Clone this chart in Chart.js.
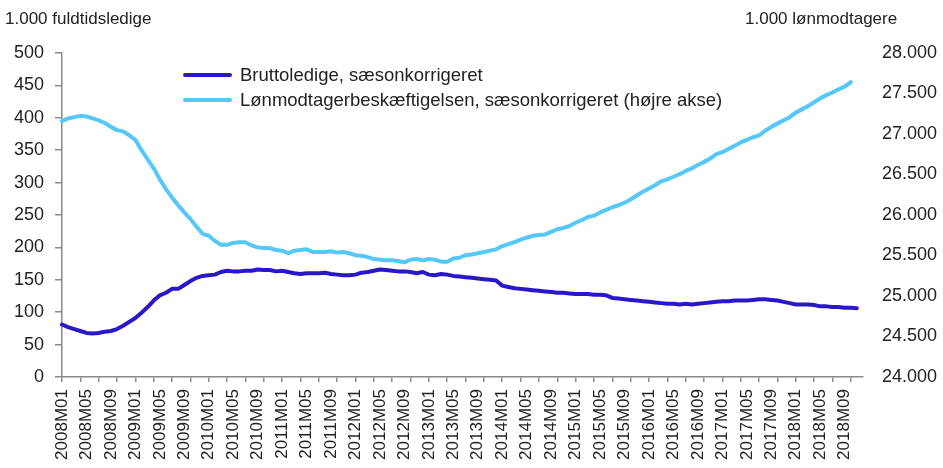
<!DOCTYPE html>
<html>
<head>
<meta charset="utf-8">
<script src="https://cdn.jsdelivr.net/npm/chart.js@4.4.1/dist/chart.umd.min.js"></script>
<style>
  body { margin: 0; background: #fff; }
  #wrap { position: relative; width: 943px; height: 468px; font-family: "Liberation Sans", Arial, sans-serif; color: #222; }
  canvas { position: absolute; left: 0; top: 0; }
  .axis-title { position: absolute; top: 9px; font-size: 17px; white-space: nowrap; }
  .legend { position: absolute; left: 183px; top: 62px; font-size: 18.5px; }
  .legend div { display: flex; align-items: center; height: 25px; white-space: nowrap; }
  .legend i { display: inline-block; width: 49px; height: 4px; border-radius: 2px; margin-right: 8px; }
</style>
</head>
<body>
<div id="wrap">
  <canvas id="chart" width="943" height="468"></canvas>
  <div class="axis-title" style="left:5px;">1.000 fuldtidsledige</div>
  <div class="axis-title" style="left:745px;">1.000 lønmodtagere</div>
  <div class="legend" id="legend"></div>
</div>
<script>
// månedlige kategorier 2008M01 - 2018M12
const years = [2008, 2009, 2010, 2011, 2012, 2013, 2014, 2015, 2016, 2017, 2018];
const months = ["01", "02", "03", "04", "05", "06", "07", "08", "09", "10", "11", "12"];
const labels = [];
years.forEach((y) => months.forEach((m) => labels.push(`${y}M${m}`)));

// bruttoledige, 1.000 fuldtidsledige (venstre akse)
const bruttoledige = [
  81, 77, 74, 71, 68, 67, 68, 70, 71, 74, 79, 85,
  91, 99, 108, 118, 126, 130, 136, 136, 142, 148, 153, 156,
  157, 158, 162, 164, 163, 163, 164, 164, 166, 165, 165, 163,
  164, 162, 160, 159, 160, 160, 160, 161, 159, 158, 157, 157,
  158, 161, 162, 164, 166, 165, 164, 163, 163, 162, 160, 162,
  158, 157, 159, 158, 156, 155, 154, 153, 152, 151, 150, 149,
  141, 139, 137, 136, 135, 134, 133, 132, 131, 130, 130, 129,
  128, 128, 128, 127, 127, 126, 122, 121, 120, 119, 118, 117,
  116, 115, 114, 113, 113, 112, 113, 112, 113, 114, 115, 116,
  117, 117, 118, 118, 118, 119, 120, 120, 119, 118, 116, 114,
  112, 112, 112, 111, 109, 109, 108, 108, 107, 107, 106
];

// lønmodtagerbeskæftigelse, 1.000 lønmodtagere (højre akse)
const loenmodtagere = [
  27160, 27192, 27208, 27224, 27216, 27192, 27168, 27136, 27088, 27048, 27032, 26984,
  26928, 26800, 26688, 26576, 26440, 26320, 26216, 26120, 26032, 25952, 25856, 25768,
  25744, 25680, 25632, 25632, 25656, 25664, 25664, 25624, 25600, 25592, 25592, 25568,
  25560, 25528, 25560, 25568, 25576, 25544, 25544, 25544, 25552, 25536, 25544, 25528,
  25504, 25496, 25480, 25456, 25448, 25440, 25440, 25432, 25416, 25448, 25456, 25440,
  25456, 25448, 25424, 25424, 25464, 25472, 25504, 25512, 25528, 25544, 25560, 25576,
  25616, 25640, 25664, 25696, 25720, 25744, 25752, 25760, 25792, 25824, 25840, 25864,
  25904, 25936, 25976, 25992, 26032, 26064, 26096, 26120, 26152, 26192, 26240, 26288,
  26328, 26368, 26416, 26440, 26472, 26504, 26544, 26576, 26616, 26656, 26696, 26752,
  26776, 26816, 26856, 26896, 26928, 26960, 26984, 27040, 27088, 27128, 27168, 27208,
  27264, 27304, 27344, 27392, 27440, 27480, 27512, 27552, 27584, 27640
];

const seriesNames = [
  "Bruttoledige, sæsonkorrigeret",
  "Lønmodtagerbeskæftigelsen, sæsonkorrigeret (højre akse)"
];
const colors = ["#2a17c8", "#55c8f7"];

const axisGray = "#8a8a8a";
const tickFont = { family: "'Liberation Sans', Arial, sans-serif", size: 18 };

const formatDk = (v) => String(v).replace(/\B(?=(\d{3})+(?!\d))/g, ".");

document.getElementById("legend").innerHTML = seriesNames
  .map((name, i) => `<div><i style="background:${colors[i]}"></i>${name}</div>`)
  .join("");

new Chart(document.getElementById("chart"), {
  type: "line",
  data: {
    labels,
    datasets: [
      { label: seriesNames[0], data: bruttoledige, yAxisID: "y", borderColor: colors[0], borderWidth: 4 },
      { label: seriesNames[1], data: loenmodtagere, yAxisID: "y1", borderColor: colors[1], borderWidth: 4 }
    ]
  },
  options: {
    responsive: false,
    animation: false,
    layout: { padding: { top: 53 } },
    elements: {
      point: { radius: 0 },
      line: { tension: 0, borderCapStyle: "round", borderJoinStyle: "round", fill: false }
    },
    plugins: { legend: { display: false }, tooltip: { enabled: false } },
    scales: {
      x: {
        type: "category",
        offset: false,
        afterFit: (scale) => { scale.height = 91; },
        border: { display: true, color: axisGray, width: 1.5 },
        grid: {
          display: true,
          drawOnChartArea: false,
          drawTicks: true,
          tickLength: 5,
          lineWidth: 1.5,
          color: (ctx) => (ctx.index % 3 === 0 ? axisGray : "rgba(0,0,0,0)")
        },
        ticks: {
          autoSkip: false,
          maxRotation: 90,
          minRotation: 90,
          padding: 7,
          color: "#222",
          font: { family: "'Liberation Sans', Arial, sans-serif", size: 17 },
          callback: (value, index) => (index % 4 === 0 ? labels[index] : "")
        }
      },
      y: {
        position: "left",
        min: 0,
        max: 500,
        afterFit: (scale) => { scale.width = 62; },
        border: { display: true, color: axisGray, width: 1.5 },
        grid: { display: true, drawOnChartArea: false, drawTicks: true, tickLength: 7, color: axisGray, lineWidth: 1.5 },
        ticks: { stepSize: 50, padding: 11, color: "#222", font: tickFont }
      },
      y1: {
        position: "right",
        min: 24000,
        max: 28000,
        afterFit: (scale) => { scale.width = 80; },
        border: { display: false },
        grid: { display: false, drawTicks: false },
        ticks: { stepSize: 500, padding: 19, color: "#222", font: tickFont, callback: (v) => formatDk(v) }
      }
    }
  }
});
</script>
</body>
</html>
